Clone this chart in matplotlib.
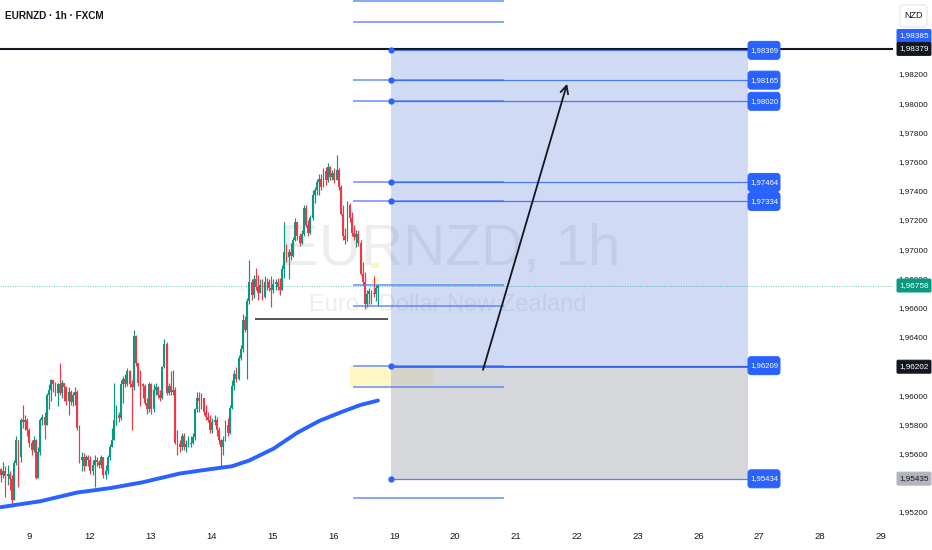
import matplotlib
matplotlib.use('Agg')
import matplotlib.pyplot as plt
import matplotlib.transforms as mtrans
from matplotlib.patches import Rectangle, FancyBboxPatch
import numpy as np

# ---------------- data ----------------
open0 = 1.9550
closes = [
1.9546, 1.9549, 1.9545, 1.9547, 1.9543, 1.9529, 1.9554, 1.9570, 1.9558, 1.9584,
1.9582, 1.9584, 1.9577, 1.9568, 1.9563, 1.9570, 1.9544, 1.9562, 1.9584, 1.9586,
1.9580, 1.9601, 1.9604, 1.9611, 1.9608, 1.9602, 1.9608, 1.9602, 1.9609, 1.9606,
1.9597, 1.9603, 1.9596, 1.9601, 1.9603, 1.9578, 1.9556, 1.9558, 1.9552, 1.9558,
1.9556, 1.9549, 1.9553, 1.9556, 1.9555, 1.9553, 1.9558, 1.9546, 1.9549, 1.9558,
1.9565, 1.9570, 1.9584, 1.9587, 1.9585, 1.9608, 1.9612, 1.9608, 1.9617, 1.9608,
1.9606, 1.9641, 1.9623, 1.9609, 1.9608, 1.9607, 1.9595, 1.9591, 1.9608, 1.9591,
1.9604, 1.9606, 1.9601, 1.9599, 1.9620, 1.9636, 1.9602, 1.9607, 1.9603, 1.9604,
1.9568, 1.9567, 1.9565, 1.9573, 1.9565, 1.9567, 1.9567, 1.9568, 1.9572, 1.9591,
1.9599, 1.9597, 1.9599, 1.9589, 1.9586, 1.9584, 1.9577, 1.9582, 1.9584, 1.9577,
1.9570, 1.9565, 1.9570, 1.9580, 1.9575, 1.9592, 1.9607, 1.9615, 1.9612, 1.9626,
1.9632, 1.9652, 1.9645, 1.9665, 1.9678, 1.9669, 1.9680, 1.9675, 1.9671, 1.9676,
1.9668, 1.9678, 1.9678, 1.9674, 1.9673, 1.9677, 1.9678, 1.9675, 1.9673, 1.9687,
1.9699, 1.9695, 1.9699, 1.9696, 1.9707, 1.9719, 1.9710, 1.9705, 1.9711, 1.9729,
1.9717, 1.9712, 1.9722, 1.9738, 1.9741, 1.9747, 1.9749, 1.9743, 1.9754, 1.9748,
1.9757, 1.9750, 1.9753, 1.9748, 1.9755, 1.9743, 1.9725, 1.9710, 1.9707, 1.9731,
1.9722, 1.9712, 1.9709, 1.9711, 1.9705, 1.9684, 1.9678, 1.9663, 1.9670, 1.9672,
1.9671, 1.9670, 1.9674, 1.9676]
highs = [
1.9551, 1.9555, 1.9552, 1.9553, 1.9549, 1.9546, 1.9556, 1.9573, 1.9570, 1.9585,
1.9594, 1.9587, 1.9585, 1.9578, 1.9570, 1.9573, 1.9571, 1.9565, 1.9585, 1.9588,
1.9589, 1.9602, 1.9608, 1.9612, 1.9611, 1.9610, 1.9609, 1.9623, 1.9611, 1.9609,
1.9607, 1.9606, 1.9604, 1.9603, 1.9606, 1.9604, 1.9580, 1.9562, 1.9561, 1.9560,
1.9560, 1.9559, 1.9556, 1.9560, 1.9558, 1.9556, 1.9560, 1.9558, 1.9553, 1.9560,
1.9567, 1.9578, 1.9609, 1.9594, 1.9589, 1.9611, 1.9614, 1.9615, 1.9619, 1.9618,
1.9611, 1.9645, 1.9642, 1.9623, 1.9618, 1.9609, 1.9608, 1.9599, 1.9610, 1.9609,
1.9608, 1.9609, 1.9607, 1.9604, 1.9621, 1.9639, 1.9637, 1.9609, 1.9617, 1.9618,
1.9606, 1.9577, 1.9570, 1.9575, 1.9575, 1.9570, 1.9573, 1.9573, 1.9575, 1.9592,
1.9603, 1.9603, 1.9602, 1.9599, 1.9594, 1.9589, 1.9587, 1.9585, 1.9587, 1.9586,
1.9579, 1.9571, 1.9573, 1.9584, 1.9585, 1.9594, 1.9611, 1.9618, 1.9620, 1.9628,
1.9635, 1.9656, 1.9655, 1.9667, 1.9693, 1.9680, 1.9683, 1.9688, 1.9683, 1.9680,
1.9680, 1.9682, 1.9681, 1.9680, 1.9682, 1.9680, 1.9680, 1.9681, 1.9681, 1.9690,
1.9719, 1.9704, 1.9701, 1.9705, 1.9709, 1.9722, 1.9719, 1.9712, 1.9714, 1.9731,
1.9731, 1.9721, 1.9724, 1.9741, 1.9743, 1.9749, 1.9752, 1.9752, 1.9756, 1.9757,
1.9760, 1.9758, 1.9755, 1.9756, 1.9765, 1.9756, 1.9745, 1.9731, 1.9715, 1.9734,
1.9732, 1.9726, 1.9717, 1.9714, 1.9714, 1.9707, 1.9692, 1.9685, 1.9673, 1.9674,
1.9673, 1.9682, 1.9676, 1.9676]
lows = [
1.9541, 1.9544, 1.9531, 1.9539, 1.9536, 1.9524, 1.9529, 1.9553, 1.9538, 1.9555,
1.9578, 1.9577, 1.9573, 1.9565, 1.9560, 1.9562, 1.9543, 1.9549, 1.9560, 1.9580,
1.9571, 1.9580, 1.9591, 1.9597, 1.9603, 1.9600, 1.9593, 1.9601, 1.9599, 1.9597,
1.9594, 1.9587, 1.9594, 1.9593, 1.9594, 1.9577, 1.9554, 1.9549, 1.9549, 1.9553,
1.9552, 1.9547, 1.9546, 1.9538, 1.9552, 1.9551, 1.9551, 1.9544, 1.9543, 1.9547,
1.9556, 1.9565, 1.9570, 1.9580, 1.9582, 1.9584, 1.9595, 1.9606, 1.9607, 1.9606,
1.9577, 1.9604, 1.9621, 1.9607, 1.9593, 1.9599, 1.9594, 1.9588, 1.9589, 1.9588,
1.9589, 1.9601, 1.9599, 1.9597, 1.9598, 1.9619, 1.9601, 1.9601, 1.9601, 1.9601,
1.9567, 1.9560, 1.9562, 1.9563, 1.9563, 1.9562, 1.9565, 1.9565, 1.9567, 1.9570,
1.9589, 1.9589, 1.9591, 1.9587, 1.9584, 1.9582, 1.9575, 1.9575, 1.9580, 1.9573,
1.9567, 1.9552, 1.9560, 1.9569, 1.9573, 1.9574, 1.9591, 1.9604, 1.9610, 1.9611,
1.9625, 1.9630, 1.9644, 1.9612, 1.9663, 1.9666, 1.9667, 1.9673, 1.9666, 1.9671,
1.9666, 1.9667, 1.9673, 1.9672, 1.9661, 1.9671, 1.9673, 1.9673, 1.9669, 1.9673,
1.9681, 1.9692, 1.9680, 1.9693, 1.9695, 1.9706, 1.9707, 1.9703, 1.9704, 1.9710,
1.9716, 1.9710, 1.9711, 1.9721, 1.9732, 1.9738, 1.9738, 1.9741, 1.9743, 1.9745,
1.9747, 1.9748, 1.9748, 1.9746, 1.9748, 1.9741, 1.9724, 1.9707, 1.9704, 1.9706,
1.9719, 1.9710, 1.9707, 1.9702, 1.9703, 1.9683, 1.9676, 1.9660, 1.9661, 1.9663,
1.9663, 1.9668, 1.9665, 1.9662]

# moving average (bar index, value)
ma_bar = [0, 18, 35, 50, 65, 82, 96, 106, 114, 125, 136, 146, 156, 165, 173]
ma_val = [1.9524, 1.9528, 1.9534, 1.9537, 1.9541, 1.9547, 1.9550, 1.9552,
          1.9556, 1.9564, 1.9575, 1.9583, 1.9589, 1.9594, 1.9597]

day_labels = ['9', '12', '13', '14', '15', '16', '19', '20', '21', '22', '23',
              '26', '27', '28', '29']

# long-position tool
pos_start, pos_end = 179.0, 342.8
pos_target = 1.98369
pos_entry = 1.96209
pos_stop = 1.95434
entry_line = 1.96202
level_prices = [1.98369, 1.98165, 1.98020, 1.97464, 1.97334, 1.96209, 1.95434]

# fib-like levels
fib_start, fib_end = 161.5, 230.8
fib_prices = [1.9871, 1.9856, 1.98165, 1.98020, 1.97464, 1.97334, 1.9676,
              1.9662, 1.96209, 1.9606, 1.9530]

# other drawings
support_price, support_start, support_end = 1.96529, 116.6, 177.6
zone_x, zone_y = (160.2, 198.3), (1.9606, 1.96209)
small_zones = [((169.8, 173.5), (1.9688, 1.9691)), ((169.8, 173.5), (1.9677, 1.9680))]
arrow_from = (221.2, 1.9618)
arrow_to = (259.8, 1.9814)
top_line = 1.98379
last_price = 1.96758

axis_marks = [  # value, background, text colour, px shift up
    (1.98385, '#2962ff', 'white', 12),
    (1.98379, '#131722', 'white', 0),
    (1.96758, '#089981', 'white', 0),
    (1.96202, '#131722', 'white', 0),
    (1.95435, '#b2b5be', '#131722', 0),
]

# ---------------- style ----------------
plt.rcParams['font.family'] = ['Liberation Sans', 'DejaVu Sans']
fs_axis, fs_tick, fs_box, fs_title = 5.9, 6.8, 5.6, 7.2
fs_wm1, fs_wm2 = 42, 17
TXT = '#131722'
UP, DN = '#089981', '#f23645'
BLUE = '#2962ff'

# ---------------- figure ----------------
W, H = 932, 550
fig = plt.figure(figsize=(W / 100, H / 100), dpi=100)
fig.patch.set_facecolor('white')
AX_R, AX_B = 893, 522
ax = fig.add_axes([0, 1 - AX_B / H, AX_R / W, AX_B / H])
Y_TOP, Y_BOT = 1.98714, 1.95138
PPX = (Y_TOP - Y_BOT) / AX_B          # price per pixel
PX_PER_BAR, X0PX = 2.179, 1.0
def px2x(px):
    return (px - X0PX) / PX_PER_BAR
def price2py(p):                      # pixel row from top
    return (Y_TOP - p) / PPX
ax.set_xlim(px2x(0), px2x(AX_R))
ax.set_ylim(Y_BOT, Y_TOP)
for s in ax.spines.values():
    s.set_visible(False)
ax.set_yticks([])
tick_pos = [px2x(29 + 60.857 * k) for k in range(len(day_labels))]
ax.set_xticks(tick_pos)
ax.set_xticklabels(day_labels)
ax.tick_params(axis='x', length=0, pad=7, labelsize=fs_tick, labelcolor=TXT)

IDT = mtrans.IdentityTransform()
def pix_label(cx, cy_top, w, h, text, fc, fg, r, fs, z, ec=None):
    """box of fixed pixel size; cy_top measured from the top of the figure"""
    cy = H - cy_top
    box = FancyBboxPatch((cx - w / 2, cy - h / 2), w, h,
                         boxstyle=f'round,pad=0,rounding_size={r}',
                         transform=IDT, fc=fc, ec=(ec or fc), lw=0.7, zorder=z)
    fig.add_artist(box)
    fig.text(cx, cy, text, transform=IDT, ha='center', va='center',
             fontsize=fs, color=fg, zorder=z + 0.1)

# watermark
ax.text(px2x(450), Y_TOP - 265 * PPX, 'EURNZD, 1h', ha='center', va='baseline',
        fontsize=fs_wm1, color='#787b86', alpha=0.13, zorder=0)
ax.text(px2x(448), Y_TOP - 311 * PPX, 'Euro / Dollar New Zealand', ha='center',
        va='baseline', fontsize=fs_wm2, color='#787b86', alpha=0.13, zorder=0)

# candles
n = min(len(closes), len(highs), len(lows))
c = np.array(closes[:n])
o = np.array([open0] + closes[:n - 1])
hi = np.maximum(np.array(highs[:n]), np.maximum(o, c))
lo = np.minimum(np.array(lows[:n]), np.minimum(o, c))
xb = np.arange(n)
cols = np.where(c >= o, UP, DN)
ax.vlines(xb, lo, hi, colors=cols, lw=0.85, zorder=5)
ax.bar(xb, np.maximum(np.abs(c - o), 0.7 * PPX), bottom=np.minimum(o, c), width=0.85,
       color=cols, linewidth=0, zorder=6)

# moving average
ax.plot(ma_bar, ma_val, color=BLUE, lw=2.8, solid_capstyle='round',
        solid_joinstyle='round', zorder=7)

# lines
ax.axhline(top_line, color=TXT, lw=1.5, zorder=8)
ax.axhline(last_price, color=UP, lw=0.7, ls=(0, (1, 1.5)), alpha=0.6, zorder=4)
ax.hlines(support_price, support_start, support_end, color='#434651', lw=1.3, zorder=8)

# position tool
ax.add_patch(Rectangle((pos_start, pos_entry), pos_end - pos_start, pos_target - pos_entry,
                       facecolor=(71 / 255, 111 / 255, 215 / 255), alpha=0.25, lw=0, zorder=2))
ax.add_patch(Rectangle((zone_x[0], zone_y[0]), zone_x[1] - zone_x[0], zone_y[1] - zone_y[0],
                       facecolor='#fff7c6', lw=0, zorder=1.5))
ax.add_patch(Rectangle((pos_start, pos_stop), pos_end - pos_start, pos_entry - pos_stop,
                       facecolor=(196 / 255, 198 / 255, 205 / 255), alpha=0.7, lw=0, zorder=2))
for (zx, zy) in small_zones:
    ax.add_patch(Rectangle((zx[0], zy[0]), zx[1] - zx[0], zy[1] - zy[0],
                           facecolor='#fff3b0', alpha=0.8, lw=0, zorder=4))
ax.hlines(entry_line, pos_start, pos_end, color='#5d606b', lw=1.2, zorder=8)

# fib lines
ax.hlines(fib_prices, fib_start, fib_end, color='#4d7cf5', lw=1.1, alpha=0.85, zorder=8)
# level lines with dots and labels
ax.hlines(level_prices, pos_start, pos_end, color=BLUE, lw=0.9, alpha=0.8, zorder=8)
ax.plot([pos_start] * len(level_prices), level_prices, 'o', color=BLUE, ms=3.5, zorder=9)
for p in level_prices:
    pix_label(764, price2py(p), 32, 18, f'{p:.5f}'.replace('.', ','), BLUE, 'white',
              3, fs_box, 10)

# arrow
ax.annotate('', xy=arrow_to, xytext=arrow_from,
            arrowprops=dict(arrowstyle='->', color=TXT, lw=1.3, mutation_scale=14,
                            shrinkA=0, shrinkB=0), zorder=9)

# right price axis
trans = mtrans.blended_transform_factory(fig.transFigure, ax.transData)
xa = 913 / W
for t in np.arange(1.952, 1.98201, 0.002):
    if abs(t - 1.962) < 1e-6 or abs(t - 1.954) < 1e-6:
        continue
    ax.text(xa, t, f'{t:.5f}'.replace('.', ','), transform=trans, ha='center', va='center',
            fontsize=fs_axis, color=TXT, zorder=10)
for val, bg, fg, shift in axis_marks:
    pix_label(914, price2py(val) - shift, 34, 13, f'{val:.5f}'.replace('.', ','), bg, fg,
              1, fs_axis, 11)
pix_label(913.5, 16, 27, 22, 'NZD', 'white', TXT, 3, fs_axis + 0.6, 11, ec='#e0e3eb')

# title
fig.text(5 / W, 1 - 16 / H, 'EURNZD · 1h · FXCM', ha='left', va='center',
         fontsize=fs_title, fontweight='bold', color=TXT)

fig.savefig('out.png', dpi=100, facecolor='white')
